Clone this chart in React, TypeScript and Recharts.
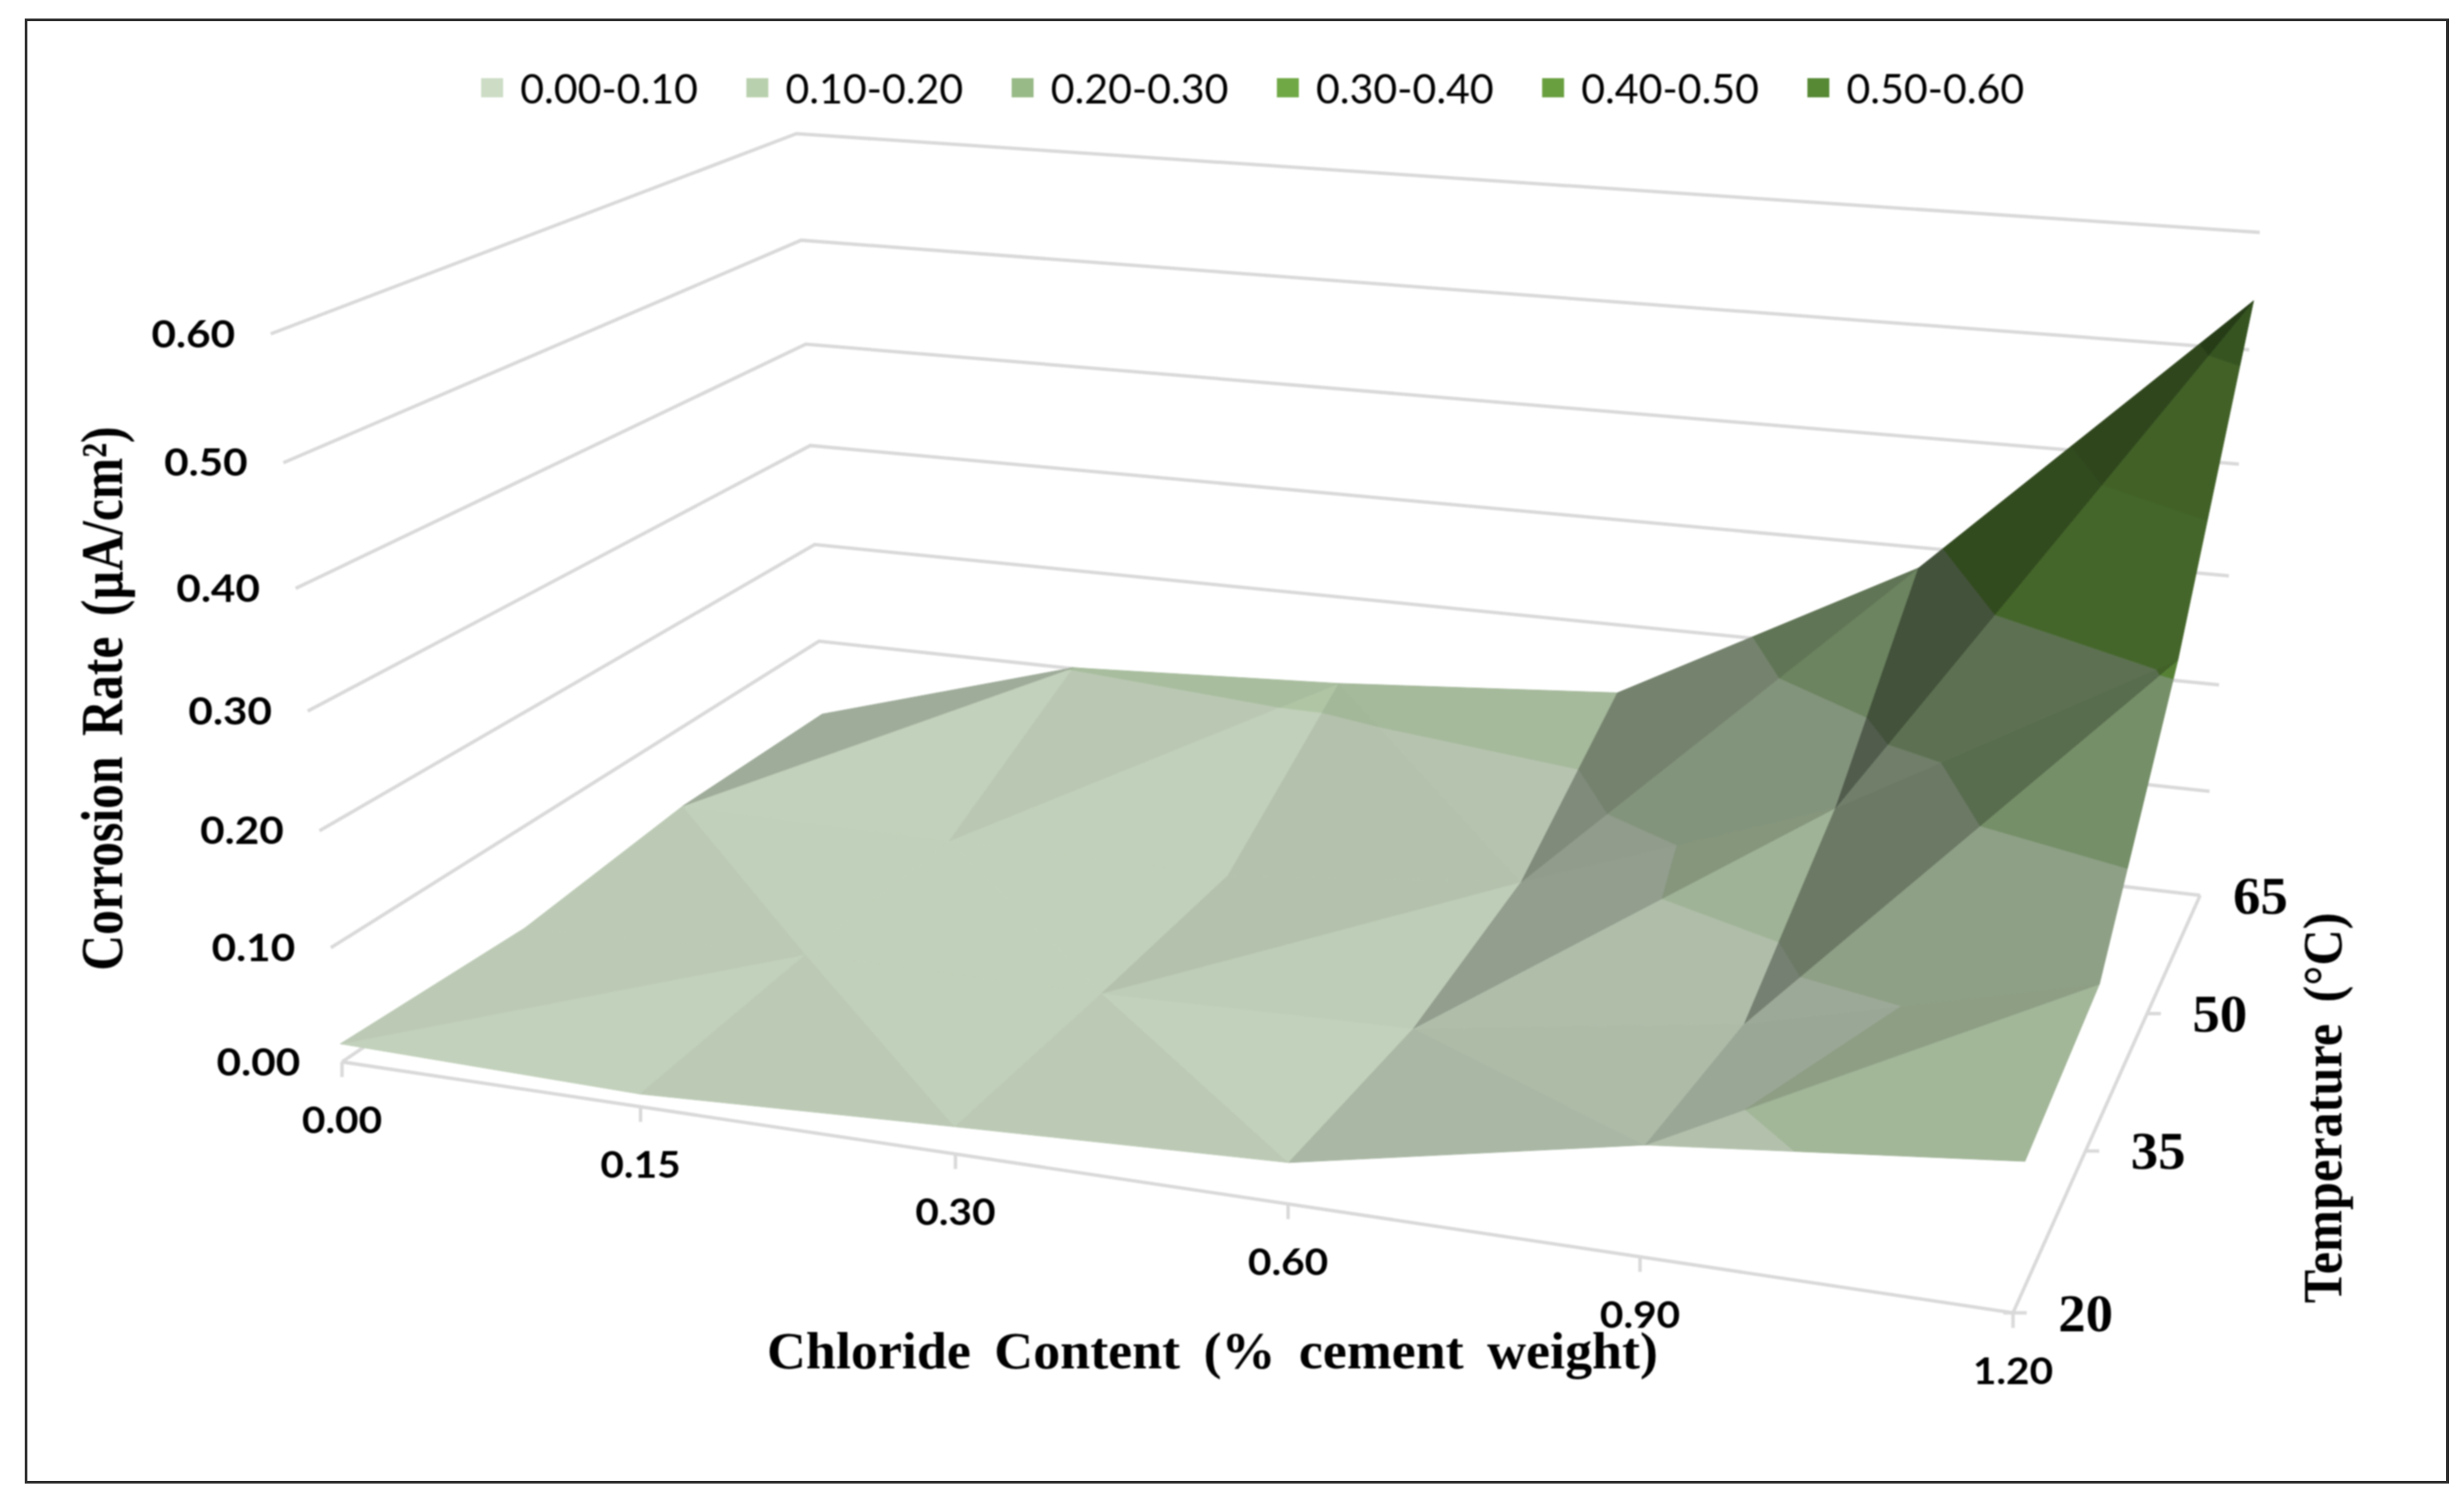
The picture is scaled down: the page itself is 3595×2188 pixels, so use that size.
import { ComposedChart, Area, Line, Scatter, XAxis, YAxis, Legend } from 'recharts'

const WIDTH = 3595
const HEIGHT = 2188

// corrosion rate (uA/cm2), one row per temperature, one column per chloride content
const chlorideLabels = ['0.00', '0.15', '0.30', '0.60', '0.90', '1.20']
const temperatureLabels = ['20', '35', '50', '65']
const rateAt20 = [0.016, 0.011, 0.023, 0.034, 0.089, 0.117]
const rateAt35 = [0.009, 0.02, 0.021, 0.027, 0.069, 0.139]
const rateAt50 = [0.024, 0.022, 0.022, 0.05, 0.151, 0.31]
const rateAt65 = [0.023, 0.101, 0.114, 0.134, 0.281, 0.542]
const rates = [rateAt20, rateAt35, rateAt50, rateAt65]
const rateTicks = [0, 0.1, 0.2, 0.3, 0.4, 0.5, 0.6]
const bandLabels = ['0.00-0.10', '0.10-0.20', '0.20-0.30', '0.30-0.40', '0.40-0.50', '0.50-0.60']
const bandColors = ['#ccdcc5', '#b9d0ae', '#98ba87', '#70a845', '#6a9f40', '#578935']

// how each grid cell is cut in two: true = from (i, j) to (i+1, j+1)
const cellCuts = [
  [true, false, false, false, true],
  [false, false, true, true, true],
  [true, true, false, true, true],
]
// brightness of the two triangles of each cell
const cellShades = [
  [[0.95, 0.92], [0.92, 0.945], [0.92, 0.95], [0.83, 0.85], [0.875, 0.76]],
  [[0.92, 0.945], [0.945, 0.945], [0.93, 0.88], [0.86, 0.72], [0.77, 0.58]],
  [[0.95, 0.78], [0.945, 0.91], [0.88, 0.89], [0.71, 0.63], [0.61, 0.44]],
]

// the view: corners of the floor and of the 0.60 plane on the page
const floorCorners = [[499, 1549], [2937, 1915], [3210, 1306], [1201, 1073]]
const topCorners = [[395, 487], [3032, 713], [3297, 339], [1162, 195]]
const MAX_RATE = 0.6
const DEPTH = 0.93

function homography(q: number[][]) {
  const [[x0, y0], [x1, y1], [x2, y2], [x3, y3]] = q
  const dx1 = x1 - x2, dx2 = x3 - x2, sx = x0 - x1 + x2 - x3
  const dy1 = y1 - y2, dy2 = y3 - y2, sy = y0 - y1 + y2 - y3
  const den = dx1 * dy2 - dx2 * dy1
  const g = (sx * dy2 - dx2 * sy) / den
  const h = (dx1 * sy - sx * dy1) / den
  const a = x1 - x0 + g * x1, b = x3 - x0 + h * x3
  const d = y1 - y0 + g * y1, e = y3 - y0 + h * y3
  return (u: number, t: number) => {
    const w = g * u + h * t + 1
    return [(a * u + b * t + x0) / w, (d * u + e * t + y0) / w]
  }
}

const floorAt = homography(floorCorners)
const topAt = homography(topCorners)

// chloride index, temperature index, rate -> page position
function project(i: number, j: number, rate: number) {
  const u = i / (chlorideLabels.length - 1)
  const t = j / (temperatureLabels.length - 1)
  const f = floorAt(u, t)
  const top = topAt(u, t)
  const s = rate / MAX_RATE
  const k = (DEPTH * s) / (1 + (DEPTH - 1) * s)
  return { x: f[0] + (top[0] - f[0]) * k, y: f[1] + (top[1] - f[1]) * k }
}

type Vertex = { x: number; y: number; v: number }

function vertex(i: number, j: number): Vertex {
  return { ...project(i, j, rates[j][i]), v: rates[j][i] }
}

// keep the part of a polygon on one side of a rate level
function clip(poly: Vertex[], level: number, above: boolean) {
  const out: Vertex[] = []
  poly.forEach((p, n) => {
    const q = poly[(n + 1) % poly.length]
    const pIn = above ? p.v >= level : p.v <= level
    const qIn = above ? q.v >= level : q.v <= level
    if (pIn) out.push(p)
    if (pIn !== qIn) {
      const k = (level - p.v) / (q.v - p.v)
      out.push({ x: p.x + (q.x - p.x) * k, y: p.y + (q.y - p.y) * k, v: level })
    }
  })
  return out
}

// convex polygon -> points with [low, high] for a range Area
function toRange(poly: Vertex[]) {
  const xs = [...new Set(poly.map(p => p.x))].sort((a, b) => a - b)
  return xs.map(x => {
    const hits: number[] = []
    poly.forEach((p, n) => {
      const q = poly[(n + 1) % poly.length]
      const lo = Math.min(p.x, q.x)
      const hi = Math.max(p.x, q.x)
      if (x < lo || x > hi) return
      if (p.x === q.x) hits.push(p.y, q.y)
      else hits.push(p.y + ((q.y - p.y) * (x - p.x)) / (q.x - p.x))
    })
    return { x, range: [Math.min(...hits), Math.max(...hits)] }
  })
}

function shadeColor(hex: string, shade: number) {
  const n = parseInt(hex.slice(1), 16)
  const c = [n >> 16, (n >> 8) & 255, n & 255].map(v => Math.round(v * shade))
  return `rgb(${c.join(',')})`
}

function buildFacets() {
  const facets: { key: string; data: { x: number; range: number[] }[]; color: string }[] = []
  cellCuts.forEach((row, j) => {
    row.forEach((mainCut, i) => {
      const a = vertex(i, j), b = vertex(i + 1, j), c = vertex(i + 1, j + 1), d = vertex(i, j + 1)
      const triangles = mainCut ? [[a, b, c], [a, c, d]] : [[a, b, d], [b, c, d]]
      triangles.forEach((tri, n) => {
        bandColors.forEach((color, band) => {
          const lo = band / 10
          const poly = clip(clip(tri, lo, true), lo + 0.1, false)
          if (poly.length < 3) return
          const data = toRange(poly)
          if (data.length < 2) return
          facets.push({ key: `${i}-${j}-${n}-${band}`, data, color: shadeColor(color, cellShades[j][i][n]) })
        })
      })
    })
  })
  return facets
}

const lastI = chlorideLabels.length - 1
const lastJ = temperatureLabels.length - 1

const wallLines = rateTicks.map(r => [project(0, 0, r), project(0, lastJ, r), project(lastI, lastJ, r)])
const frontAxis = [project(0, 0, 0), project(lastI, 0, 0)]
const sideAxis = [project(lastI, 0, 0), project(lastI, lastJ, 0)]
const frontTicks = chlorideLabels.map((_, i) => {
  const p = project(i, 0, 0)
  return [p, { x: p.x + 0.01, y: p.y + 22 }]
})
const sideTicks = temperatureLabels.map((_, j) => {
  const p = project(lastI, j, 0)
  return [{ x: p.x - (j === 0 ? 14 : 0), y: p.y }, { x: p.x + (j === lastJ ? 0 : 20), y: p.y }]
})

const rateLabelData = rateTicks.map(r => {
  const p = project(0, 0, r)
  return { x: p.x - 52 - (r === 0 ? 9 : 0), y: p.y - 2, label: r.toFixed(2) }
})
const chlorideLabelData = chlorideLabels.map((label, i) => {
  const p = project(i, 0, 0)
  return { x: p.x, y: p.y + 83, label }
})
const temperatureLabelData = temperatureLabels.map((label, j) => {
  const p = project(lastI, j, 0)
  return { x: p.x + (j === lastJ ? 88 : 106), y: p.y, label }
})

const sansFont = 'Lato, "Open Sans", sans-serif'
const serifFont = '"Liberation Serif", serif'

const RateLabel = ({ cx, cy, payload }: any) => (
  <text x={cx} y={cy} textAnchor="end" dominantBaseline="central" fontFamily={sansFont} fontWeight={700} fontSize={56} textLength={122} lengthAdjust="spacingAndGlyphs">
    {payload.label}
  </text>
)
const ChlorideLabel = ({ cx, cy, payload }: any) => (
  <text x={cx} y={cy} textAnchor="middle" dominantBaseline="central" fontFamily={sansFont} fontWeight={700} fontSize={54} textLength={117} lengthAdjust="spacingAndGlyphs">
    {payload.label}
  </text>
)
const TemperatureLabel = ({ cx, cy, payload }: any) => (
  <text x={cx} y={cy} textAnchor="middle" dominantBaseline="central" fontFamily={serifFont} fontWeight={700} fontSize={78} textLength={80} lengthAdjust="spacingAndGlyphs">
    {payload.label}
  </text>
)
const TitleLabel = ({ cx, cy, payload }: any) => (
  <text
    transform={`translate(${cx},${cy}) rotate(${payload.angle})`}
    textAnchor="middle"
    fontFamily={serifFont}
    fontWeight={700}
    fontSize={payload.size}
    textLength={payload.length}
    lengthAdjust="spacingAndGlyphs"
    style={{ wordSpacing: 14 }}
  >
    {payload.label}
  </text>
)

const titleData = [
  { x: 1769, y: 1996, label: 'Chloride Content (% cement weight)', angle: 0, size: 76, length: 1300 },
  { x: 178, y: 1019, label: 'Corrosion Rate (µA/cm²)', angle: -90, size: 86, length: 794 },
  { x: 3416, y: 1616, label: 'Temperature (°C)', angle: -90, size: 80, length: 570 },
]

const BandLegend = () => (
  <div style={{ display: 'flex', fontFamily: sansFont, fontSize: 60, color: '#000', lineHeight: '60px' }}>
    {bandLabels.map((label, n) => (
      <div key={label} style={{ width: 387, display: 'flex', alignItems: 'center' }}>
        <span style={{ width: 32, height: 28, background: bandColors[n], marginRight: 25 }} />
        <span>{label}</span>
      </div>
    ))}
  </div>
)

export default function App() {
  const facets = buildFacets()
  const gridLines = [...wallLines, frontAxis, sideAxis, ...frontTicks, ...sideTicks]
  return (
    <div style={{ position: 'absolute', left: 0, top: 0, width: WIDTH, height: HEIGHT, background: '#fff', overflow: 'hidden' }}>
      <div style={{ position: 'absolute', left: 36, top: 27, width: 3529, height: 2129, border: '4px solid #2b2b2b' }} />
      <div style={{ position: 'absolute', left: 0, top: 0, filter: 'blur(1px)' }}>
        <ComposedChart width={WIDTH} height={HEIGHT} margin={{ top: 0, right: 0, bottom: 0, left: 0 }}>
          <XAxis type="number" dataKey="x" domain={[0, WIDTH]} hide />
          <YAxis type="number" dataKey="y" domain={[0, HEIGHT]} reversed hide />
          <Legend
            layout="horizontal"
            verticalAlign="middle"
            align="center"
            wrapperStyle={{ left: 702, top: 98, width: 2400 }}
            content={<BandLegend />}
          />
          {gridLines.map((points, n) => (
            <Line
              key={`grid-${n}`}
              data={points}
              dataKey="y"
              stroke="#d9d9d9"
              strokeWidth={5}
              dot={false}
              activeDot={false}
              legendType="none"
              isAnimationActive={false}
              zIndex={50}
            />
          ))}
          {facets.map(f => (
            <Area
              key={f.key}
              data={f.data}
              dataKey="range"
              type="linear"
              fill={f.color}
              fillOpacity={1}
              stroke={f.color}
              strokeWidth={1}
              dot={false}
              activeDot={false}
              legendType="none"
              isAnimationActive={false}
            />
          ))}
          <Scatter data={rateLabelData} shape={<RateLabel />} legendType="none" isAnimationActive={false} />
          <Scatter data={chlorideLabelData} shape={<ChlorideLabel />} legendType="none" isAnimationActive={false} />
          <Scatter data={temperatureLabelData} shape={<TemperatureLabel />} legendType="none" isAnimationActive={false} />
          <Scatter data={titleData} shape={<TitleLabel />} legendType="none" isAnimationActive={false} />
        </ComposedChart>
      </div>
    </div>
  )
}
